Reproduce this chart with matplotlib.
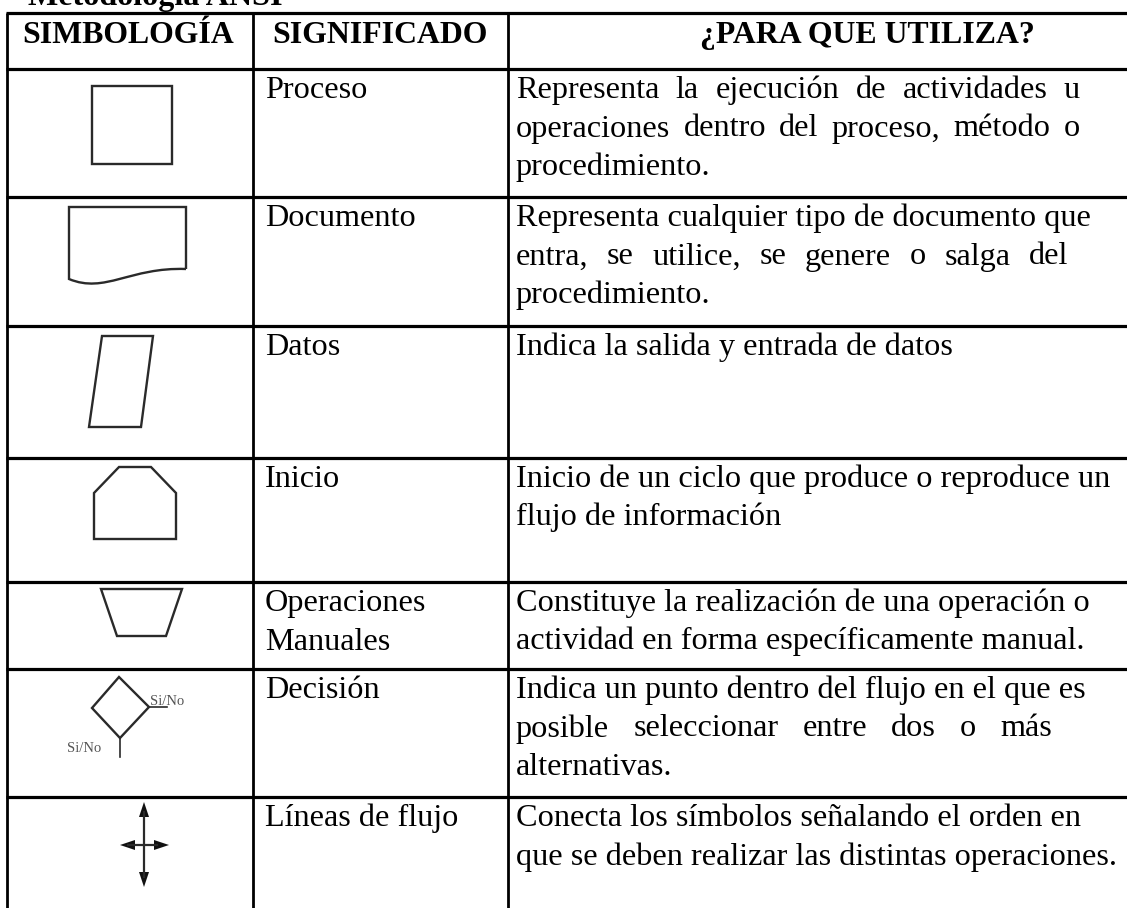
import numpy as np
import matplotlib.pyplot as plt
from matplotlib.patches import Polygon, PathPatch, FancyArrow
from matplotlib.path import Path

# table content
title = "Metodología ANSI"
headers = ["SIMBOLOGÍA", "SIGNIFICADO", "¿PARA QUE UTILIZA?"]
names = ["Proceso", "Documento", "Datos", "Inicio",
         "Operaciones\nManuales", "Decisión", "Líneas de flujo"]
uses = [
    ["Representa la ejecución de actividades u",
     "operaciones dentro del proceso, método o",
     "procedimiento."],
    ["Representa cualquier tipo de documento que",
     "entra, se utilice, se genere o salga del",
     "procedimiento."],
    ["Indica la salida y entrada de datos"],
    ["Inicio de un ciclo que produce o reproduce un",
     "flujo de información"],
    ["Constituye la realización de una operación o",
     "actividad en forma específicamente manual."],
    ["Indica un punto dentro del flujo en el que es",
     "posible seleccionar entre dos o más",
     "alternativas."],
    ["Conecta los símbolos señalando el orden en",
     "que se deben realizar las distintas operaciones."],
]
# right edge for justified lines (None = natural spacing)
justify_to = [
    [1080, 1080, None],
    [None, 1068, None],
    [None],
    [None, None],
    [None, None],
    [None, 1052, None],
    [None, None],
]

W, H = 1127, 908
col_x = [7, 253, 508]
row_y = [13, 69, 197, 326, 458, 582, 669, 797]

fig = plt.figure(figsize=(W / 100, H / 100), dpi=100)
ax = fig.add_axes([0, 0, 1, 1])
ax.set_xlim(0, W)
ax.set_ylim(H, 0)
ax.axis('off')
renderer = fig.canvas.get_renderer()
FONT = 'Liberation Serif'


def text_w(s, size, weight='normal'):
    t = ax.text(0, 0, s, fontsize=size, family=FONT, fontweight=weight)
    w = t.get_window_extent(renderer).width
    t.remove()
    return w


def fit(s, width, weight='normal'):
    return 20 * width / text_w(s, 20, weight)


body_fs = fit("que se deben realizar las distintas operaciones.", 1117 - 516)
head_fs = fit("SIMBOLOGÍA", 211, 'bold')
title_fs = fit(title, 254, 'bold')


def put_line(x, y, s, right=None, size=body_fs):
    if right is None:
        ax.text(x, y, s, fontsize=size, family=FONT, va='baseline')
        return
    words = s.split()
    widths = [text_w(w, size) for w in words]
    gap = (right - x - sum(widths)) / (len(words) - 1)
    for w, wd in zip(words, widths):
        ax.text(x, y, w, fontsize=size, family=FONT, va='baseline')
        x += wd + gap


# title (cut off at the top, as in the source)
ax.text(28, 5, title, fontsize=title_fs, family=FONT, fontweight='bold', va='baseline')

# grid lines
for y in row_y:
    ax.plot([col_x[0] - 1, W + 5], [y, y], color='black', lw=2.3, solid_capstyle='butt')
for x in col_x:
    ax.plot([x, x], [row_y[0], H + 5], color='black', lw=2.0, solid_capstyle='butt')

# headers
ax.text(22, 43, headers[0], fontsize=head_fs, family=FONT, fontweight='bold', va='baseline')
ax.text(272, 43, headers[1], fontsize=head_fs, family=FONT, fontweight='bold', va='baseline')
ax.text(867, 43, headers[2], fontsize=head_fs, family=FONT, fontweight='bold',
        va='baseline', ha='center')

line_h = 38.5
tops = row_y[1:]
for i, top in enumerate(tops):
    for k, nm in enumerate(names[i].split("\n")):
        put_line(265, top + 29 + k * line_h, nm)
    for k, ln in enumerate(uses[i]):
        put_line(516, top + 29 + k * line_h, ln, justify_to[i][k])

# symbols, drawn relative to cell centre x and row top
cx = 130
sc = '#2a2a2a'
lw = 1.7


def poly(pts, top, closed=True):
    pts = np.array(pts, float) + [cx, top]
    ax.add_patch(Polygon(pts, closed=closed, fill=False, ec=sc, lw=lw, joinstyle='miter'))


# proceso
poly([(-38, 17), (42, 17), (42, 95), (-38, 95)], tops[0])

# documento
t = tops[1]
verts = np.array([(56, 72), (56, 10), (-61, 10), (-61, 82),
                  (-25, 97), (0, 70), (56, 72)], float) + [cx, t]
codes = [Path.MOVETO, Path.LINETO, Path.LINETO, Path.LINETO,
         Path.CURVE4, Path.CURVE4, Path.CURVE4]
ax.add_patch(PathPatch(Path(verts, codes), fill=False, ec=sc, lw=lw))

# datos
poly([(-28, 10), (23, 10), (11, 101), (-41, 101)], tops[2])

# inicio
poly([(-11, 9), (21, 9), (46, 35), (46, 81), (-36, 81), (-36, 35)], tops[3])

# operaciones manuales
poly([(-29, 7), (52, 7), (36, 54), (-13, 54)], tops[4])

# decision
t = tops[5]
poly([(-11, 8), (19, 38), (-10, 69), (-38, 39)], t)
ax.plot(np.array([-10, -10]) + cx, np.array([69, 88]) + t, color=sc, lw=1.2)
ax.plot(np.array([19, 37]) + cx, np.array([38, 38]) + t, color=sc, lw=1.2)
ax.text(cx + 20, t + 36, "Si/No", fontsize=10.5, family=FONT, color='#555', va='baseline')
ax.text(cx - 63, t + 83, "Si/No", fontsize=10.5, family=FONT, color='#555', va='baseline')

# lineas de flujo
t = tops[6]
ax.plot([cx + 14, cx + 14], [t + 15, t + 80], color=sc, lw=1.6)
ax.plot([cx - 2, cx + 27], [t + 48, t + 48], color=sc, lw=1.6)
for (x0, y0, dx, dy) in [(14, 20, 0, -15), (14, 75, 0, 15), (2, 48, -12, 0), (27, 48, 12, 0)]:
    ax.add_patch(FancyArrow(cx + x0, t + y0, dx, dy, width=0.1, head_width=10,
                            head_length=15, length_includes_head=True,
                            color='#111', lw=0))

fig.savefig("out.png", dpi=100)
